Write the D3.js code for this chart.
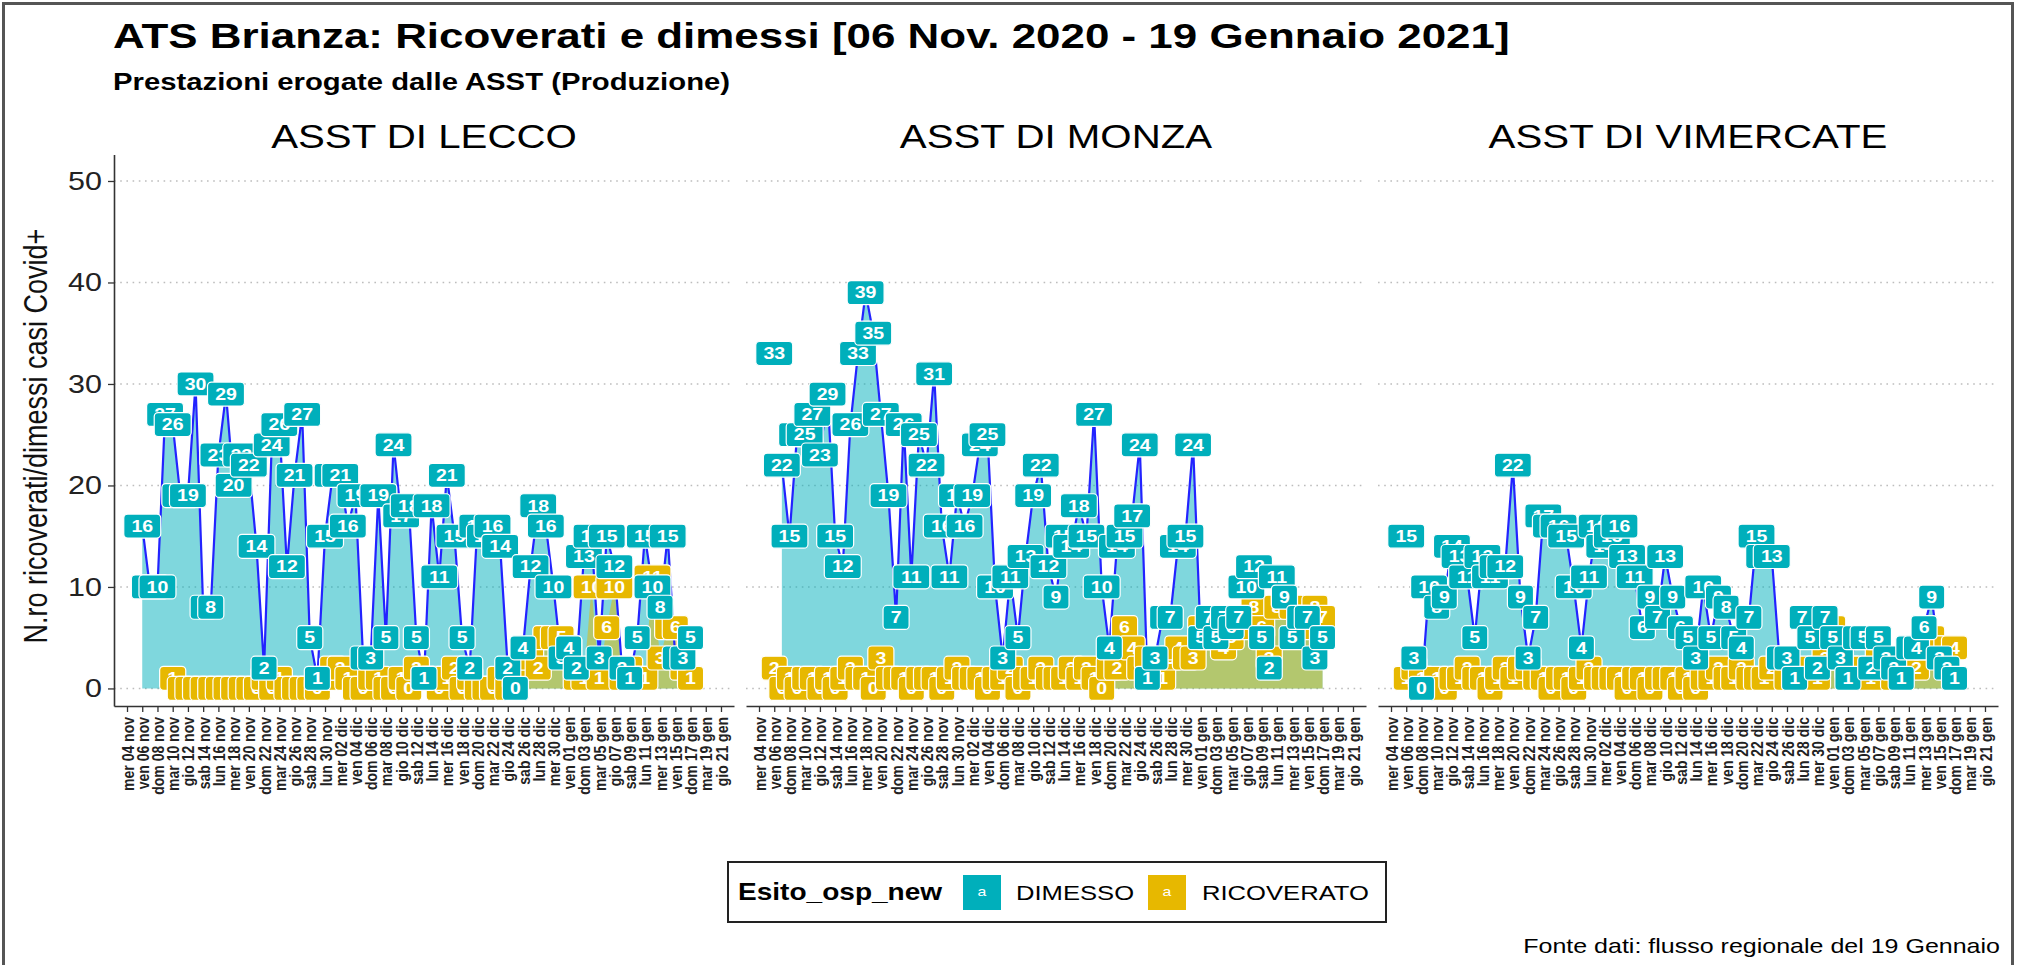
<!DOCTYPE html>
<html><head><meta charset="utf-8">
<script src="https://cdn.jsdelivr.net/npm/d3@7"></script>
<style>
body{margin:0;background:#fff}
svg{display:block}
text{font-family:"Liberation Sans",Arial,Helvetica,sans-serif}
</style>
</head><body>
<svg id="c" width="2020" height="965"></svg>
<script>
// ---------------- DATA ----------------
const titleText = "ATS Brianza: Ricoverati e dimessi [06 Nov. 2020 - 19 Gennaio 2021]";
const subtitleText = "Prestazioni erogate dalle ASST (Produzione)";
const yTitle = "N.ro ricoverati/dimessi casi Covid+";
const captionText = "Fonte dati: flusso regionale del 19 Gennaio";
const legendTitle = "Esito_osp_new";
const categories = ["DIMESSO", "RICOVERATO"];
const panelNames = ["ASST DI LECCO", "ASST DI MONZA", "ASST DI VIMERCATE"];

const firstDay = new Date(2020, 10, 6);   // 06 nov 2020
const lastDay = new Date(2021, 0, 17);    // 17 gen 2021
const periodEnd = new Date(2021, 0, 19);  // 19 gen 2021 (title period)
const tickStart = new Date(2020, 10, 4);
const tickStop = new Date(2021, 0, 22);
const weekdayNames = ["dom", "lun", "mar", "mer", "gio", "ven", "sab"];
const monthNames = ["gen", "feb", "mar", "apr", "mag", "giu", "lug", "ago", "set", "ott", "nov", "dic"];
const yTicks = [0, 10, 20, 30, 40, 50];

const dimessoLecco = [16,10,10,27,26,19,19,30,8,8, 23,29,20,23,22,14,2,24,26,12,
  21,27,5,1,15,21,21,16,19,3, 3,19,5,24,17,18,5,1,
  18,11,21,15,5,2,16,15,16,14, 2,0,4,12,18,16,10,3,4,2, 13,15,3,15,12,2,1,5,15,10, 8,15,3,3,5];
const ricoveratoLecco = [null,null,null,null,1,0,0,0,0,0, 0,0,0,0,0,0,1,0,1,0,
  0,0,0,0,1,2,2,1,0,0, 1,1,0,0,1,0,2,1,1,0, 1,2,0,1,0,0,0,1,0,1,
  3,3,2,5,5,5,4,1,1,10, 1,6,10,1,2,1,1,11,3,6, 6,2,1];

const dimessoMonza = [33,22,15,25,25,27,23,29,15,12, 26,33,39,35,27,19,7,26,11,25,
  22,31,16,11,19,16,19,24,25,10, 3,11,5,13,19,22,12,9,15,14,
  18,15,27,10,4,14,15,17,24, 1,3,7,7,14,15,24,5,7,5,7,6,7,10,12,5,2,11,9,5,7,7,3,5];
const ricoveratoMonza = [2,0,1,0,1,1,0,1,0,1, 2,1,1,0,3,1,1,1,0,1,
  1,1,0,1,2,1,1,1,0,1, 1,2,0,1,1,2,1,1,1,2, 1,2,1,0,2,2,6,4,2,3,
  1,1,3,4,3,3,6,5,6,4, 5,6,7,8,6,3,8,9,8,6, 7,8,7];

const dimessoVimercate = [15,3,0,10,8,9,14,13,11,5, 13,11,12,12,22,9,3,7,17,16,
  16,15,10,4,11,16,14,15,16,13, 11,6,9,7,13,9,6,5,3,10, 5,9,8,5,4,7,15,13,13,3,
  3,1,7,5,2,7,5,3,1,5, 5,2,5,3,2,1,4,4,6,9, 3,2,1];
const ricoveratoVimercate = [1,2,1,0,1,0,1,1,2,1, 1,0,1,2,1,2,2,1,1,0,
  1,1,0,1,2,1,1,1,1,0, 1,1,0,1,1,1,0,1,0,1, 1,2,1,1,2,1,1,1,2,3,
  1,1,1,2,1,3,6,3,2,1, 2,1,3,2,1,2,3,2,4,5, 4,4,4];

const dimessoSeries = [dimessoLecco, dimessoMonza, dimessoVimercate];
const ricoveratoSeries = [ricoveratoLecco, ricoveratoMonza, ricoveratoVimercate];
const dimessoLineStart = [0, 1, 1];

// ---------------- STYLE / LAYOUT ----------------
const COL_DIM = "#00AFBB", COL_RIC = "#E7B800";
const SX = 1.22;                 // horizontal stretch of the original raster
const panelX = [114, 746, 1378], panelW = 620;
const plotTop = 154.6, plotBottom = 706;

const svg = d3.select("#c");
svg.append("rect").attr("x", 0).attr("y", 0).attr("width", 2020).attr("height", 965).attr("fill", "#fff");
svg.append("rect").attr("x", 3.5).attr("y", 3.5).attr("width", 2009).attr("height", 1000)
  .attr("fill", "none").attr("stroke", "#555").attr("stroke-width", 3);

function stext(parent, x, y, str, size, weight, anchor, fill) {
  return parent.append("text")
    .attr("transform", `translate(${x},${y}) scale(${SX},1)`)
    .attr("text-anchor", anchor || "start")
    .attr("font-size", size).attr("font-weight", weight || "normal")
    .attr("fill", fill || "#000").text(str);
}

stext(svg, 113, 48, titleText, 36, "bold");
stext(svg, 113, 90, subtitleText, 24, "bold");

const dates = d3.timeDay.range(firstDay, d3.timeDay.offset(lastDay, 1));
const tickDates = d3.timeDay.range(tickStart, tickStop, 2);
const fmtTick = d => `${weekdayNames[d.getDay()]} ${String(d.getDate()).padStart(2, "0")} ${monthNames[d.getMonth()]}`;
const xDomain = [d3.timeHour.offset(firstDay, -89), d3.timeHour.offset(periodEnd, 89)];

const y = d3.scaleLinear().domain([-1.73, 52.6]).range([plotBottom, plotTop]);

panelNames.forEach((name, p) => {
  const x0 = panelX[p], x1 = x0 + panelW;
  const x = d3.scaleTime().domain(xDomain).range([x0, x1]);
  const g = svg.append("g");

  // strip label
  stext(g, (x0 + x1) / 2, 148, name, 33, "normal", "middle");

  // grid
  g.selectAll("line.grid").data(yTicks).join("line").attr("class", "grid")
    .attr("x1", x0).attr("x2", x1).attr("y1", d => y(d)).attr("y2", d => y(d))
    .attr("stroke", "#bdbdbd").attr("stroke-width", 1.6).attr("stroke-dasharray", "1.6,4.6");

  const dim = dates.map((d, i) => ({date: d, v: dimessoSeries[p][i]}));
  const ric = dates.map((d, i) => ({date: d, v: ricoveratoSeries[p][i]}));
  const dimLine = dim.slice(dimessoLineStart[p]);

  const area = d3.area().defined(d => d.v != null).x(d => x(d.date)).y0(y(0)).y1(d => y(d.v));
  const line = d3.line().defined(d => d.v != null).x(d => x(d.date)).y(d => y(d.v));

  g.append("path").datum(dimLine).attr("d", area).attr("fill", COL_DIM).attr("fill-opacity", 0.5);
  g.append("path").datum(ric).attr("d", area).attr("fill", COL_RIC).attr("fill-opacity", 0.5);
  g.append("path").datum(dimLine).attr("d", line).attr("fill", "none")
    .attr("stroke", "#2323ff").attr("stroke-width", 2.2);

  // labels
  const drawLabels = (data, col) => {
    const lg = g.append("g");
    data.filter(d => d.v != null).forEach(d => {
      const cx = x(d.date), cy = y(d.v);
      const s = String(d.v);
      const w = (s.length * 8.9 + 12.5) * SX, h = 24;
      lg.append("rect").attr("x", cx - w / 2).attr("y", cy - h / 2).attr("width", w).attr("height", h)
        .attr("rx", 4).attr("fill", col).attr("stroke", "#fff").attr("stroke-width", 1.2);
      lg.append("text").attr("transform", `translate(${cx},${cy}) scale(${SX},1)`)
        .attr("text-anchor", "middle").attr("dy", "0.36em")
        .attr("font-size", 16).attr("font-weight", "bold").attr("fill", "#fff").text(s);
    });
  };
  drawLabels(ric, COL_RIC);
  drawLabels(dim, COL_DIM);

  // x axis
  const ax = g.append("g").attr("transform", `translate(0,${plotBottom})`)
    .call(d3.axisBottom(x).tickValues(tickDates).tickFormat(fmtTick).tickSize(6).tickSizeOuter(0));
  ax.select(".domain").attr("stroke", "#333").attr("stroke-width", 1.6);
  ax.selectAll(".tick line").attr("stroke", "#333").attr("stroke-width", 1.3);
  ax.selectAll(".tick text").attr("y", null).attr("dy", null).attr("x", null)
    .attr("transform", `translate(0,11) scale(${SX},1) rotate(-90)`)
    .attr("text-anchor", "end").attr("dominant-baseline", "central")
    .attr("font-size", 14).attr("font-weight", "bold").attr("fill", "#222")
    .attr("font-family", '"Liberation Sans",Arial,sans-serif');

  if (p === 0) {
    const ay = g.append("g").attr("transform", `translate(${x0},0)`)
      .call(d3.axisLeft(y).tickValues(yTicks).tickSize(6).tickSizeOuter(0).tickFormat(d3.format("d")));
    ay.select(".domain").attr("stroke", "#333").attr("stroke-width", 1.6);
    ay.selectAll(".tick line").attr("stroke", "#333").attr("stroke-width", 1.3);
    ay.selectAll(".tick text").attr("x", null).attr("dy", null)
      .attr("transform", `translate(-12,0) scale(${SX},1)`)
      .attr("text-anchor", "end").attr("dominant-baseline", "central")
      .attr("font-size", 25).attr("fill", "#222")
      .attr("font-family", '"Liberation Sans",Arial,sans-serif');
  }
});

// y axis title
svg.append("text").attr("transform", `translate(36,436) scale(${SX},1) rotate(-90)`)
  .attr("text-anchor", "middle").attr("dominant-baseline", "central")
  .attr("font-size", 27).attr("fill", "#111").text(yTitle);

// legend
const lg = svg.append("g");
lg.append("rect").attr("x", 728).attr("y", 862).attr("width", 658).attr("height", 60)
  .attr("fill", "#fff").attr("stroke", "#222").attr("stroke-width", 2);
stext(lg, 738, 900, legendTitle, 23, "bold");
const keyX = [963, 1148], keyLabelX = [1016, 1202];
categories.forEach((c, k) => {
  const col = k === 0 ? COL_DIM : COL_RIC;
  lg.append("rect").attr("x", keyX[k]).attr("y", 875).attr("width", 38).attr("height", 35).attr("fill", col);
  lg.append("text").attr("transform", `translate(${keyX[k] + 19},892) scale(${SX},1)`)
    .attr("text-anchor", "middle").attr("dominant-baseline", "central")
    .attr("font-size", 13).attr("fill", "#fff").text("a");
  stext(lg, keyLabelX[k], 900, c, 21, "normal");
});

// caption
stext(svg, 2000, 953, captionText, 20.5, "normal", "end");
</script>
</body></html>
